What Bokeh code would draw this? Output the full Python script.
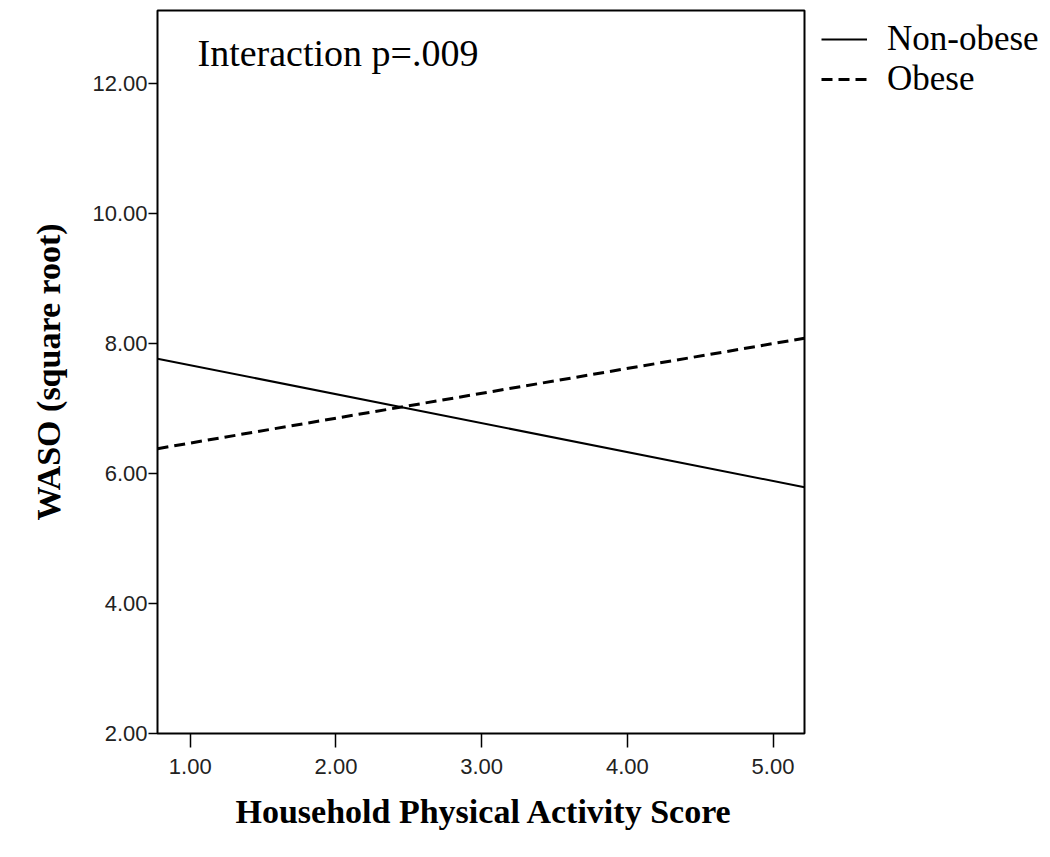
from bokeh.plotting import figure
from bokeh.models import Range1d, FixedTicker, Legend, LegendItem, Label, BoxAnnotation, Title
from bokeh.embed import file_html
from bokeh.resources import INLINE

# Data
x_vals = [0.775, 5.216]          # Household Physical Activity Score (line ends)
non_obese = [7.77, 5.79]          # WASO (square root)
obese = [6.385, 8.085]
x_ticks = [1, 2, 3, 4, 5]
x_tick_labels = ["1.00", "2.00", "3.00", "4.00", "5.00"]
y_ticks = [2, 4, 6, 8, 10, 12]
y_tick_labels = ["2.00", "4.00", "6.00", "8.00", "10.00", "12.00"]
y_top = 13.13
series_names = ["Non-obese", "Obese"]
x_title = "Household Physical Activity Score"
y_title = "WASO (square root)"
annotation = "Interaction p=.009"

# Layout (pixels): the visible plot box, and the wider drawing frame around it
W, H = 1050, 857
box_l, box_r, box_t, box_b = 157, 804, 10, 733
pad = 2
x_min, x_max = min(x_vals), max(x_vals)
y_min = min(y_ticks)
sx = (x_max - x_min) / (box_r - box_l)
sy = (y_top - y_min) / (box_b - box_t)
frame_l, frame_t, frame_b = box_l - pad, box_t - pad, box_b + pad

p = figure(width=W, height=H, output_backend="svg", toolbar_location=None,
           x_range=Range1d(x_min - pad * sx, x_max + (W - box_r) * sx),
           y_range=Range1d(y_min - pad * sy, y_top + pad * sy),
           min_border_left=frame_l, min_border_right=0, min_border_top=frame_t,
           min_border_bottom=H - frame_b)

p.xgrid.visible = False
p.ygrid.visible = False
p.outline_line_color = None
p.background_fill_color = "white"
p.border_fill_color = "white"

p.add_layout(BoxAnnotation(left=x_min, right=x_max, bottom=y_min, top=y_top,
                           fill_alpha=0, line_color="black", line_alpha=1, line_width=2))

r1 = p.line(x_vals, non_obese, line_color="black", line_width=2)
r2 = p.line(x_vals, obese, line_color="black", line_width=3, line_dash="11 6")

for ax in (p.xaxis[0], p.yaxis[0]):
    ax.axis_line_color = None
    ax.major_tick_line_color = "black"
    ax.major_tick_line_width = 1.5
    ax.minor_tick_line_color = None
    ax.major_tick_in = pad
    ax.major_label_text_font = "Liberation Sans"
    ax.major_label_text_font_size = "22px"
    ax.major_label_text_color = "#222222"
    ax.axis_label_text_font = "Liberation Serif"
    ax.axis_label_text_font_style = "bold"
    ax.axis_label_text_font_size = "34px"
    ax.axis_label_text_color = "black"

p.xaxis[0].ticker = FixedTicker(ticks=x_ticks)
p.xaxis[0].major_label_overrides = {t: l for t, l in zip(x_ticks, x_tick_labels)}
p.xaxis[0].major_tick_out = 12
p.xaxis[0].major_label_standoff = 11

p.yaxis[0].ticker = FixedTicker(ticks=y_ticks)
p.yaxis[0].major_label_overrides = {t: l for t, l in zip(y_ticks, y_tick_labels)}
p.yaxis[0].major_tick_out = 7
p.yaxis[0].major_label_standoff = 1
p.yaxis[0].axis_label = y_title
p.yaxis[0].axis_label_standoff = 22

# x-axis title centred under the visible box (not under the wider frame)
p.add_layout(Title(text=x_title, align="left", offset=235 - frame_l, standoff=28,
                   text_font="Liberation Serif", text_font_style="bold",
                   text_font_size="34px", text_color="black"), "below")

p.add_layout(Label(x=197 - frame_l, y=frame_b - 66 + 14, x_units="screen", y_units="screen",
                   text=annotation, text_font="Liberation Serif", text_font_size="38px",
                   text_color="black", text_baseline="alphabetic"))

legend_centres = [39, 79]     # pixel rows of the two legend entries
item_h = 40
for name, rend, cy in zip(series_names, [r1, r2], legend_centres):
    lg = Legend(items=[LegendItem(label=name, renderers=[rend])],
                location=(821 - frame_l, frame_b - (cy + item_h / 2)),
                padding=0, margin=0, spacing=0,
                glyph_width=46, glyph_height=30, label_standoff=20, label_height=30,
                label_text_font="Liberation Serif", label_text_font_size="35px",
                label_text_color="black", border_line_alpha=0, background_fill_alpha=0)
    p.add_layout(lg, "center")

open("out.html", "w").write(file_html(p, INLINE))
